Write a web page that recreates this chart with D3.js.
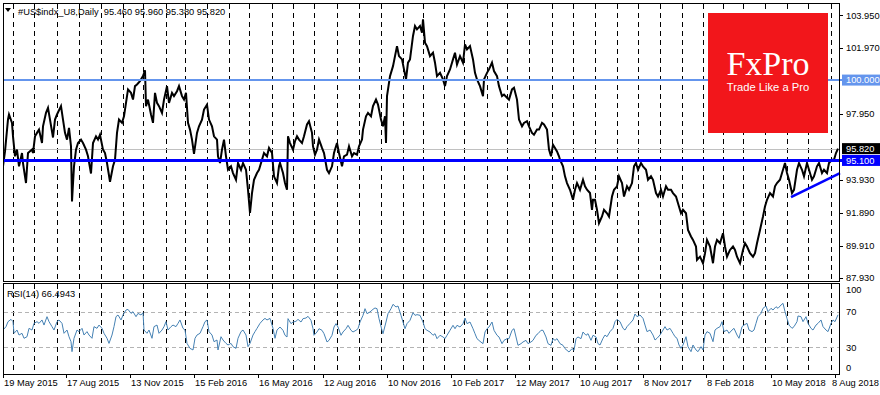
<!DOCTYPE html>
<html>
<head>
<meta charset="utf-8">
<script src="https://cdn.jsdelivr.net/npm/d3@7"></script>
<style>
  body { margin: 0; background: #fff; }
  text { font-family: "Liberation Sans", Arial, sans-serif; font-size: 9.3px; }
</style>
</head>
<body>
<script>
// size of the page
const w = 880;
const h = 395;

// daily close, [bar, price]
const price = [
  [0,94.74],[2,95.65],[5,97.6],[6,97.9],[9,97.39],[10,96.57],[12,95.35],[14,95.76],[16,94.74],[19,95.55],[20,94.94],[23,93.72],[25,95.55],[29,95.76],[30,95.55],[32,96.57],[34,96.78],[36,96.98],[39,96.16],[40,97.18],[43,98.0],[45,98.3],[47,97.59],[50,96.5],[52,97.59],[54,97.9],[58,98.41],[60,97.59],[62,96.78],[64,96.37],[66,97.08],[68,95.96],[69,92.6],[70,93.7],[71,94.74],[73,95.76],[75,96.16],[78,96.37],[80,96.16],[83,95.76],[85,95.35],[88,94.3],[90,96.16],[93,96.57],[95,96.37],[97,96.67],[100,95.76],[102,95.55],[104,94.94],[107,93.8],[110,94.74],[112,95.14],[114,96.78],[116,97.59],[119,97.39],[121,97.79],[123,98.61],[125,99.43],[128,99.22],[130,98.81],[132,99.63],[134,99.73],[137,99.94],[140,100.24],[142,100.6],[143,98.41],[145,98.81],[148,97.9],[150,97.39],[152,99.22],[154,98.61],[156,98.41],[159,98.0],[161,98.81],[164,99.63],[166,98.61],[169,99.22],[171,99.02],[174,99.32],[176,99.63],[179,99.02],[181,98.81],[183,99.22],[185,97.39],[187,96.98],[189,96.37],[191,95.5],[194,96.78],[196,97.18],[199,97.59],[201,98.2],[204,98.5],[206,97.59],[209,97.18],[211,96.57],[214,96.37],[215,95.35],[217,94.94],[219,95.76],[221,96.37],[223,95.35],[225,94.53],[228,94.74],[230,94.33],[233,93.92],[235,94.94],[238,94.53],[240,94.94],[243,94.53],[245,93.31],[247,91.9],[249,93.11],[251,93.92],[254,94.33],[256,94.53],[259,95.14],[261,95.55],[264,95.35],[266,95.86],[269,95.55],[271,94.13],[274,93.72],[276,94.74],
  [277,94.94],[280,94.33],[282,93.72],[284,93.31],[285,96.57],[287,96.16],[290,95.76],[292,96.27],[294,96.57],[296,96.37],[299,96.16],[301,96.57],[304,97.29],[306,97.49],[309,96.78],[310,95.96],[312,95.45],[314,95.76],[316,96.37],[319,95.86],[321,95.55],[324,94.53],[326,94.33],[329,94.74],[331,95.55],[334,96.16],[336,95.55],[339,94.74],[341,95.35],[344,95.45],[346,95.96],[349,95.35],[351,95.55],[354,95.45],[356,95.96],[359,96.37],[360,96.98],[363,97.79],[365,98.0],[368,97.79],[370,98.41],[373,98.81],[375,98.51],[378,97.59],[380,97.18],[382,97.79],[383,96.16],[384,99.02],[387,100.24],[390,100.85],[392,101.46],[394,102.07],[396,101.46],[399,101.26],[401,100.65],[403,100.04],[405,101.06],[407,101.26],[410,102.69],[412,103.3],[414,103.09],[417,103.3],[419,102.89],[420,103.71],[422,102.28],[424,102.07],[427,101.46],[430,101.67],[432,101.06],[434,100.24],[437,100.44],[440,100.04],[442,99.63],[444,100.24],[447,100.65],[450,101.26],[452,101.67],[454,100.95],[457,101.46],[460,101.06],[462,102.17],[464,101.87],[467,102.07],[470,101.26],[472,100.44],[474,100.04],[477,99.63],[480,99.02],[481,100.04],[484,100.44],[486,100.65],[489,101.06],[491,100.55],[494,100.24],[496,99.63],[499,99.02],[501,99.12],[504,98.92],[506,98.81],[509,99.43],[511,99.53],[514,98.81],[516,97.59],[519,97.18],[521,97.39],[524,97.49],[526,97.18],[529,96.78],[531,96.67],[534,96.98],[536,96.98],[539,97.39],[541,97.29],[544,96.98],[546,95.76],[548,95.35],[550,96.06],[552,95.86],[554,95.65],[556,95.35],
  [557,95.14],[560,94.74],[562,94.13],[564,93.72],[567,93.31],[570,92.7],[572,93.31],[574,93.72],[577,93.31],[580,93.92],[582,93.52],[584,93.31],[587,93.11],[589,92.09],[590,92.7],[592,92.7],[594,92.09],[596,91.27],[599,91.68],[601,92.09],[604,91.88],[606,91.68],[609,92.9],[611,93.31],[614,93.52],[616,94.13],[619,93.72],[621,92.9],[624,93.52],[626,93.31],[629,93.72],[631,94.74],[633,94.94],[635,94.53],[638,94.94],[640,94.74],[643,94.53],[645,93.92],[648,94.13],[650,93.92],[653,93.11],[655,92.9],[658,93.31],[660,92.9],[663,93.52],[665,93.31],[668,93.31],[670,93.11],[673,92.9],[675,92.49],[678,91.88],[680,92.09],[683,91.88],[685,90.86],[688,90.46],[690,90.25],[693,89.85],[694,89.03],[697,89.23],[700,88.83],[702,89.44],[704,90.25],[707,89.85],[710,88.83],[712,89.85],[714,90.25],[717,90.05],[720,90.66],[722,89.85],[724,89.23],[727,89.64],[730,89.85],[732,89.64],[734,89.23],[737,88.83],[740,89.64],[742,90.05],[744,89.85],[747,89.44],[750,89.23],[752,89.44],[754,90.05],[757,90.86],[760,91.68],[762,92.29],[764,92.7],[767,93.11],[770,92.9],[772,93.52],[774,93.72],[777,93.92],[780,94.53],[782,94.94],[784,94.33],[786,93.92],[789,93.11],[791,93.31],[794,94.53],[796,94.94],[799,94.53],[801,94.13],[804,94.94],[806,94.53],[809,93.92],[811,94.13],[814,94.74],[816,94.94],[819,94.33],[821,94.53],[824,94.33],[826,94.94],[829,95.14],[831,95.14],[833,95.55],[835,95.82]
];

// RSI(14), [bar, value]
const rsi = [
  [0,49.4],[3,53.2],[5,58.8],[8,61.4],[10,58.8],[11,45.7],[14,49.4],[16,43.8],[19,45.7],[21,40.1],[24,41.9],[26,51.3],[29,49.4],[31,56.9],[34,58.8],[36,56.9],[39,60.7],[41,55.0],[44,64.4],[46,58.8],[49,53.2],[51,49.4],[54,58.8],[56,60.7],[59,56.9],[61,45.7],[64,49.4],[66,41.9],[68,36.3],[69,25.1],[71,40.1],[74,49.4],[76,47.6],[79,51.3],[81,43.8],[84,47.6],[86,43.8],[89,40.1],[91,53.2],[94,51.3],[96,55.0],[99,51.3],[101,45.7],[104,40.1],[106,34.4],[109,43.8],[111,53.2],[113,64.4],[115,66.3],[118,60.7],[120,66.3],[123,71.9],[125,72.6],[128,68.1],[130,70.0],[133,64.4],[135,68.1],[138,66.3],[140,68.9],[141,49.4],[144,45.7],[146,49.4],[149,40.1],[151,53.2],[154,55.0],[156,45.7],[159,49.4],[161,53.2],[163,58.8],[165,49.4],[168,53.2],[170,55.0],[173,53.2],[175,56.9],[177,60.7],[180,51.3],[182,49.4],[184,34.4],[187,28.8],[190,27.0],[192,40.1],[194,43.8],[197,45.7],[200,53.2],[202,58.8],[204,60.7],[206,47.6],[209,43.8],[211,36.3],[214,38.2],[215,27.0],[218,41.9],[220,38.2],[223,34.4],[225,32.6],[228,34.4],[230,30.7],[233,28.8],[235,40.1],[238,47.6],[240,49.4],[243,43.8],[245,30.7],[247,34.4],[250,43.8],[252,47.6],[254,51.3],[257,56.9],[260,60.7],[262,62.5],[264,60.7],[267,62.5],[270,51.3],[272,40.1],[274,49.4],
  [277,52.8],[280,49.1],[282,43.5],[284,41.6],[285,62.2],[288,56.6],[290,58.4],[293,59.2],[295,61.4],[298,58.4],[300,62.2],[303,62.9],[305,64.8],[308,60.3],[310,50.9],[311,43.5],[314,47.2],[316,50.9],[319,49.1],[321,45.3],[324,36.0],[326,37.8],[329,43.5],[331,52.8],[333,56.6],[335,52.8],[338,43.5],[340,47.2],[343,50.9],[345,54.7],[348,49.1],[350,47.2],[353,49.1],[355,50.9],[357,58.4],[360,65.9],[362,73.4],[364,67.8],[367,69.7],[370,72.7],[372,74.2],[374,73.4],[376,62.2],[379,49.1],[380,45.3],[383,58.4],[385,67.8],[388,73.4],[390,78.3],[393,75.3],[395,76.4],[398,65.9],[400,58.4],[402,50.9],[404,56.6],[407,60.3],[410,68.9],[412,65.9],[414,66.7],[417,65.9],[420,58.4],[422,50.9],[424,49.1],[427,47.2],[430,43.5],[432,45.3],[434,39.7],[437,43.5],[440,41.6],[442,39.7],[444,43.5],[447,49.1],[450,54.7],[452,50.9],[454,54.7],[457,52.8],[460,56.6],[462,62.9],[464,56.6],[467,58.4],[470,50.9],[472,45.3],[474,39.7],[477,36.7],[480,34.1],[482,47.2],[484,50.9],[486,52.8],[489,58.4],[491,49.1],[494,43.5],[496,41.6],[499,34.1],[501,37.8],[504,39.7],[506,39.7],[509,49.1],[511,50.9],[513,41.6],[515,32.2],[518,34.1],[520,36.0],[523,37.8],[525,34.1],[528,36.0],[530,37.8],[533,43.5],[535,45.3],[538,49.1],[540,49.1],[543,41.6],[545,34.1],[548,32.2],[550,39.7],[552,37.8],[554,39.7],[557,34.1],[560,32.2],[562,28.5],[564,26.6],[566,24.7],[569,28.5],[571,26.6],[573,39.7],[575,41.6],[578,39.7],[580,47.2],[583,43.5],[585,45.3],[588,37.8],[590,43.5],[593,41.6],[595,34.1],
  [597,32.6],[600,40.1],[602,43.8],[604,41.9],[607,47.6],[610,51.3],[612,58.8],[614,61.4],[617,58.8],[620,51.3],[622,49.4],[624,53.2],[627,56.9],[630,60.7],[632,67.4],[634,64.4],[637,66.3],[640,62.5],[642,55.0],[644,47.6],[647,49.4],[650,43.8],[652,38.2],[654,40.1],[657,43.8],[660,49.4],[662,53.2],[664,49.4],[667,51.3],[670,45.7],[672,41.9],[674,40.1],[676,32.6],[678,28.8],[680,32.6],[683,41.9],[685,30.7],[688,25.1],[690,32.6],[693,27.0],[695,25.1],[698,30.7],[700,27.0],[702,43.8],[704,47.6],[707,45.7],[710,36.3],[712,49.4],[714,51.3],[717,53.2],[719,58.8],[721,47.6],[724,49.4],[726,45.7],[729,49.4],[731,51.3],[734,43.8],[736,40.1],[739,53.2],[741,55.0],[744,56.9],[746,49.4],[749,47.6],[751,49.4],[753,56.9],[755,64.4],[758,68.1],[760,73.8],[763,76.4],[765,70.0],[768,73.8],[770,71.9],[773,75.6],[775,73.8],[778,77.5],[780,79.4],[782,70.0],[784,62.5],[786,55.0],[789,51.3],[791,53.2],[794,58.8],[795,65.2],[798,64.4],[800,58.8],[803,64.4],[805,56.9],[808,51.3],[810,49.4],[813,55.0],[815,56.9],[818,60.7],[820,53.2],[823,49.4],[825,47.6],[828,56.9],[830,60.7],[832,58.8],[835,66.49]
];

// price axis tick labels
const priceTicks = [103.95, 101.97, 97.95, 93.93, 91.89, 89.91, 87.93];
const rsiTicks = [100, 70, 30, 0];
const rsiLevels = [70, 30];

// date axis
const dateBars = [0, 63, 127, 191, 255, 320, 384, 448, 512, 576, 640, 703, 768, 832];
const dateLabels = ["19 May 2015", "17 Aug 2015", "13 Nov 2015", "15 Feb 2016", "16 May 2016", "12 Aug 2016",
  "10 Nov 2016", "10 Feb 2017", "12 May 2017", "10 Aug 2017", "8 Nov 2017", "8 Feb 2018", "10 May 2018", "8 Aug 2018"];

// first bar of each month (vertical grid)
const monthBars = [10, 31, 54, 76, 98, 120, 140, 163, 182, 204, 226, 246, 269, 290, 311, 334, 356, 378, 400, 420,
  441, 461, 484, 504, 526, 549, 570, 592, 614, 635, 657, 679, 700, 720, 740, 762, 784, 805, 828];

// horizontal levels and the trend line
const level100 = 100.0;
const level951 = 95.10;
const lastPrice = 95.82;
const trend = [[788, 92.86], [837, 94.33]];

const title = "#US$indx_U8,Daily  95.460 95.960 95.380 95.820";
const rsiTitle = "RSI(14) 66.4943";

// panel geometry
const left = 3, right = 839;
const mainTop = 3, mainBottom = 281;
const rsiTop = 283, rsiBottom = 374;

// scales
const x = d3.scaleLinear().domain([0, 835]).range([3, 838]);
const y = d3.scaleLinear().domain([87.93, 103.95]).range([278, 15.3]);
const yr = d3.scaleLinear().domain([0, 100]).range([374, 285]);

const svg = d3.select("body").append("svg")
    .attr("width", w)
    .attr("height", h);

svg.append("rect").attr("width", w).attr("height", h).attr("fill", "#fff");

const defs = svg.append("defs");
defs.append("clipPath").attr("id", "clipMain").append("rect")
    .attr("x", left).attr("y", mainTop).attr("width", right - left).attr("height", mainBottom - mainTop);
defs.append("clipPath").attr("id", "clipRsi").append("rect")
    .attr("x", left).attr("y", rsiTop).attr("width", right - left).attr("height", rsiBottom - rsiTop);

// vertical dashed grid in both panels
const grid = svg.append("g").attr("stroke", "#000").attr("stroke-width", 1).attr("stroke-dasharray", "5,4");
[[mainTop + 1, mainBottom], [rsiTop + 1, rsiBottom]].forEach(([y0, y1]) => {
  grid.selectAll(null)
    .data(monthBars)
    .enter()
    .append("line")
    .attr("x1", d => Math.round(x(d)) + 0.5)
    .attr("x2", d => Math.round(x(d)) + 0.5)
    .attr("y1", y0)
    .attr("y2", y1);
});

// RSI 70 / 30 levels
svg.selectAll(".lvl")
    .data(rsiLevels)
    .enter()
    .append("line")
    .attr("x1", left + 1).attr("x2", right)
    .attr("y1", d => Math.round(yr(d)) + 0.5)
    .attr("y2", d => Math.round(yr(d)) + 0.5)
    .attr("stroke", "#b4b4b4")
    .attr("stroke-dasharray", "4,3");

// last price line
svg.append("line")
    .attr("x1", left).attr("x2", right)
    .attr("y1", Math.round(y(lastPrice)) + 0.5).attr("y2", Math.round(y(lastPrice)) + 0.5)
    .attr("stroke", "#c0c0c0");

// price line
svg.append("path")
    .datum(price)
    .attr("clip-path", "url(#clipMain)")
    .attr("d", d3.line().x(d => x(d[0])).y(d => y(d[1])))
    .attr("fill", "none")
    .attr("stroke", "#000")
    .attr("stroke-width", 2);

// horizontal levels
svg.append("line")
    .attr("x1", left).attr("x2", 843)
    .attr("y1", y(level100)).attr("y2", y(level100))
    .attr("stroke", "#6495ed").attr("stroke-width", 2);
svg.append("line")
    .attr("x1", left).attr("x2", 843)
    .attr("y1", y(level951)).attr("y2", y(level951))
    .attr("stroke", "#0000ff").attr("stroke-width", 3);

// trend line
svg.append("path")
    .datum(trend)
    .attr("d", d3.line().x(d => x(d[0])).y(d => y(d[1])))
    .attr("stroke", "#0000ff")
    .attr("stroke-width", 2.5);

// RSI line
svg.append("path")
    .datum(rsi)
    .attr("clip-path", "url(#clipRsi)")
    .attr("d", d3.line().x(d => x(d[0])).y(d => yr(d[1])))
    .attr("fill", "none")
    .attr("stroke", "#4682b4")
    .attr("stroke-width", 1);

// FxPro logo
const logo = svg.append("g");
logo.append("rect")
    .attr("x", 708).attr("y", 13).attr("width", 120).attr("height", 120)
    .attr("fill", "#f2161b");
logo.append("text")
    .attr("x", 768).attr("y", 75)
    .attr("text-anchor", "middle")
    .style("font-family", "'Liberation Serif', 'DejaVu Serif', serif")
    .style("font-size", "34px")
    .attr("fill", "#fff")
    .text("FxPro");
logo.append("text")
    .attr("x", 768).attr("y", 91)
    .attr("text-anchor", "middle")
    .style("font-size", "11.2px")
    .attr("fill", "#fff")
    .text("Trade Like a Pro");

// panel frames
svg.append("rect")
    .attr("x", left + 0.5).attr("y", mainTop + 0.5)
    .attr("width", right - left).attr("height", mainBottom - mainTop)
    .attr("fill", "none").attr("stroke", "#000");
svg.append("rect")
    .attr("x", left + 0.5).attr("y", rsiTop + 0.5)
    .attr("width", right - left).attr("height", rsiBottom - rsiTop)
    .attr("fill", "none").attr("stroke", "#000");

// right price axis
const pAxis = svg.append("g");
pAxis.selectAll("line")
    .data(priceTicks)
    .enter()
    .append("line")
    .attr("x1", right).attr("x2", right + 4)
    .attr("y1", d => Math.round(y(d)) + 0.5).attr("y2", d => Math.round(y(d)) + 0.5)
    .attr("stroke", "#000");
pAxis.selectAll("text")
    .data(priceTicks)
    .enter()
    .append("text")
    .attr("x", 846)
    .attr("y", d => y(d))
    .attr("dy", "0.35em")
    .text(d => d.toFixed(3));

// boxed level labels
const boxes = [
  { v: level100, fill: "#6495ed" },
  { v: lastPrice, fill: "#000" },
  { v: level951, fill: "#0000ff" }
];
const bx = svg.selectAll(".box")
    .data(boxes)
    .enter()
    .append("g");
bx.append("rect")
    .attr("x", 842).attr("y", d => y(d.v) - 5.5)
    .attr("width", 38).attr("height", 11)
    .attr("fill", d => d.fill);
bx.append("text")
    .attr("x", 846).attr("y", d => y(d.v))
    .attr("dy", "0.35em")
    .attr("fill", "#fff")
    .text(d => d.v.toFixed(3));

// RSI axis
svg.selectAll(".rt")
    .data(rsiTicks)
    .enter()
    .append("text")
    .attr("x", 846)
    .attr("y", d => yr(d) + (d === 100 ? 5 : d === 0 ? -6 : 0))
    .attr("dy", "0.35em")
    .text(d => d);

// date axis
svg.selectAll(".dt")
    .data(dateBars)
    .enter()
    .append("line")
    .attr("x1", d => Math.round(x(d)) + 0.5).attr("x2", d => Math.round(x(d)) + 0.5)
    .attr("y1", rsiBottom).attr("y2", rsiBottom + 4)
    .attr("stroke", "#000");
// the last label is pulled back so it stays inside the page
svg.selectAll(".dl")
    .data(dateBars)
    .enter()
    .append("text")
    .attr("x", (d, i) => i === dateBars.length - 1 ? w - 1 : x(d) + 1)
    .attr("text-anchor", (d, i) => i === dateBars.length - 1 ? "end" : "start")
    .attr("y", 385.5)
    .text((d, i) => dateLabels[i]);

// titles
svg.append("path")
    .attr("d", "M5,8 L11,8 L8,12 Z")
    .attr("fill", "#000");
svg.append("text")
    .attr("x", 18).attr("y", 15)
    .attr("xml:space", "preserve")
    .style("white-space", "pre")
    .text(title);
svg.append("text")
    .attr("x", 7).attr("y", 297)
    .text(rsiTitle);
</script>
</body>
</html>
